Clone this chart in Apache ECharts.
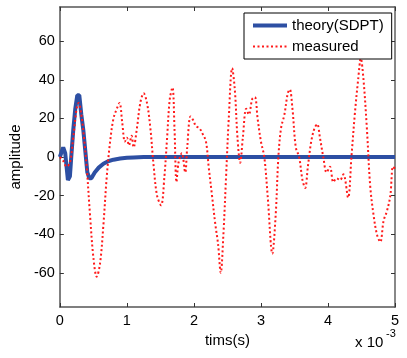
<!DOCTYPE html>
<html>
<head>
<meta charset="utf-8">
<script src="https://cdn.jsdelivr.net/npm/echarts@6/dist/echarts.min.js"></script>
<style>
html,body{margin:0;padding:0;background:#fff;}
#c{width:407px;height:358px;}
</style>
</head>
<body>
<div id="c"></div>
<script>
// time in milliseconds (axis unit is seconds x 10^-3)
const tTheory = [0,0.02,0.05,0.08,0.12,0.15,0.17,0.20,0.23,0.26,0.29,0.32,0.35,0.38,0.41,0.44,0.47,0.52,0.58,0.65,0.72,0.80,0.90,1.00,1.10,1.25,1.5,2,2.5,3,3.5,4,4.5,5];
const vTheory = [0,0,5,2,-12,-10,0,14,25,32,32,22,14,3,-8,-11,-11,-8,-5.5,-3.5,-2.2,-1.4,-0.8,-0.4,-0.2,0,0,0,0,0,0,0,0,0];

const tMeasured = [0,0.05,0.10,0.15,0.20,0.25,0.28,0.32,0.36,0.40,0.45,0.50,0.55,0.60,0.65,0.70,0.75,0.80,0.85,0.89,0.93,0.97,1.00,1.03,1.07,1.10,1.15,1.20,1.25,1.30,1.35,1.40,1.45,1.51,1.56,1.60,1.64,1.68,1.71,1.74,1.77,1.82,1.87,1.90,1.95,1.99,2.03,2.08,2.13,2.18,2.22,2.27,2.32,2.36,2.40,2.44,2.48,2.52,2.57,2.61,2.65,2.69,2.73,2.78,2.82,2.87,2.91,2.95,3.00,3.05,3.10,3.17,3.22,3.26,3.30,3.35,3.40,3.43,3.47,3.52,3.57,3.62,3.66,3.70,3.75,3.80,3.84,3.88,3.93,3.98,4.03,4.08,4.13,4.18,4.23,4.30,4.35,4.40,4.45,4.49,4.53,4.58,4.63,4.68,4.73,4.78,4.83,4.88,4.93,4.97,5.00];
const vMeasured = [0,-2,-5,-3,10,25,28,22,10,-5,-30,-52,-62,-55,-35,-10,8,20,25,28,18,8,10,6,11,5,15,28,33,28,15,-5,-20,-25,-10,10,30,36,15,-13,-3,2,-8,5,21,19,16,15,12,8,-5,-20,-35,-45,-60,-40,-10,20,46,35,10,-3,10,25,22,30,31,20,8,0,-20,-50,-30,0,15,22,33,35,25,5,0,-12,-16,-5,8,15,17,10,0,-8,-5,-13,-11,-12,-9,-21,0,22,40,51,40,15,-15,-30,-40,-44,-33,-28,-20,-5,-6];

const xTicks = [0,1,2,3,4,5];
const yTicks = [-60,-40,-20,0,20,40,60];

const seriesNames = ['theory(SDPT)','measured'];

const toPairs = (t, v) => t.map((x, i) => [x / 1000, v[i]]);

const FONT = '"Liberation Sans", Arial, Helvetica, sans-serif';
const axisColor = '#555';

const chart = echarts.init(document.getElementById('c'), null, {renderer: 'canvas'});
chart.setOption({
  animation: false,
  backgroundColor: '#fff',
  grid: {left: 58, top: 7, width: 337, height: 300, containLabel: false},
  legend: {
    orient: 'vertical', left: 244, top: 13,
    padding: [5, 8, 5, 7], itemWidth: 34, itemHeight: 14, itemGap: 6,
    borderColor: '#000', borderWidth: 1, backgroundColor: '#fff',
    itemStyle: {opacity: 0},
    textStyle: {fontFamily: FONT, fontSize: 15, color: '#000'},
    data: [
      {name: seriesNames[0], lineStyle: {width: 4}},
      {name: seriesNames[1], lineStyle: {width: 2}}
    ]
  },
  xAxis: [{
    type: 'value', min: 0, max: 0.005, interval: 0.001,
    name: 'tims(s)', nameLocation: 'middle', nameGap: 19,
    nameTextStyle: {fontFamily: FONT, fontSize: 15, color: '#000'},
    axisLine: {onZero: false, lineStyle: {color: axisColor, width: 1.5}},
    axisTick: {inside: true, length: 4, lineStyle: {color: '#333'}},
    axisLabel: {fontFamily: FONT, fontSize: 14.5, color: '#000', margin: 6,
      formatter: v => String(Math.round(v * 1000))},
    splitLine: {show: false}
  }, {
    type: 'value', position: 'top', min: 0, max: 0.005, interval: 0.001,
    axisLine: {show: true, onZero: false, lineStyle: {color: axisColor, width: 1.5}},
    axisTick: {inside: true, length: 4, lineStyle: {color: '#333'}},
    axisLabel: {show: false}, splitLine: {show: false}
  }],
  yAxis: [{
    type: 'value', min: -77.7, max: 77.7,
    name: 'amplitude', nameLocation: 'middle', nameGap: 25, nameRotate: 90,
    nameTextStyle: {fontFamily: FONT, fontSize: 15, color: '#000'},
    axisLine: {show: true, onZero: false, lineStyle: {color: axisColor, width: 1.5}},
    axisTick: {inside: true, length: 4, customValues: yTicks, lineStyle: {color: '#333'}},
    axisLabel: {fontFamily: FONT, fontSize: 14.5, color: '#000', margin: 5, customValues: yTicks},
    splitLine: {show: false}
  }, {
    type: 'value', position: 'right', min: -77.7, max: 77.7,
    axisLine: {show: true, onZero: false, lineStyle: {color: '#888', width: 2}},
    axisTick: {inside: true, length: 4, customValues: yTicks, lineStyle: {color: '#333'}},
    axisLabel: {show: false, customValues: yTicks}, splitLine: {show: false}
  }],
  series: [{
    name: seriesNames[0], type: 'line', xAxisIndex: 0, yAxisIndex: 0,
    data: toPairs(tTheory, vTheory), showSymbol: false, symbol: 'none',
    lineStyle: {color: '#2D4FA3', width: 4}, itemStyle: {color: '#2D4FA3'}, z: 2
  }, {
    name: seriesNames[1], type: 'line', xAxisIndex: 0, yAxisIndex: 0,
    data: toPairs(tMeasured, vMeasured), showSymbol: false, symbol: 'none', smooth: 0.35,
    lineStyle: {color: '#ff1a1a', width: 2, type: [2, 2.5]}, itemStyle: {color: '#ff1a1a'}, z: 3
  }],
  graphic: [
    {type: 'text', left: 355, top: 335, style: {text: 'x 10', font: '15px ' + FONT, fill: '#000'}},
    {type: 'text', left: 386, top: 328, style: {text: '-3', font: '11px ' + FONT, fill: '#000'}}
  ]
});
</script>
</body>
</html>
